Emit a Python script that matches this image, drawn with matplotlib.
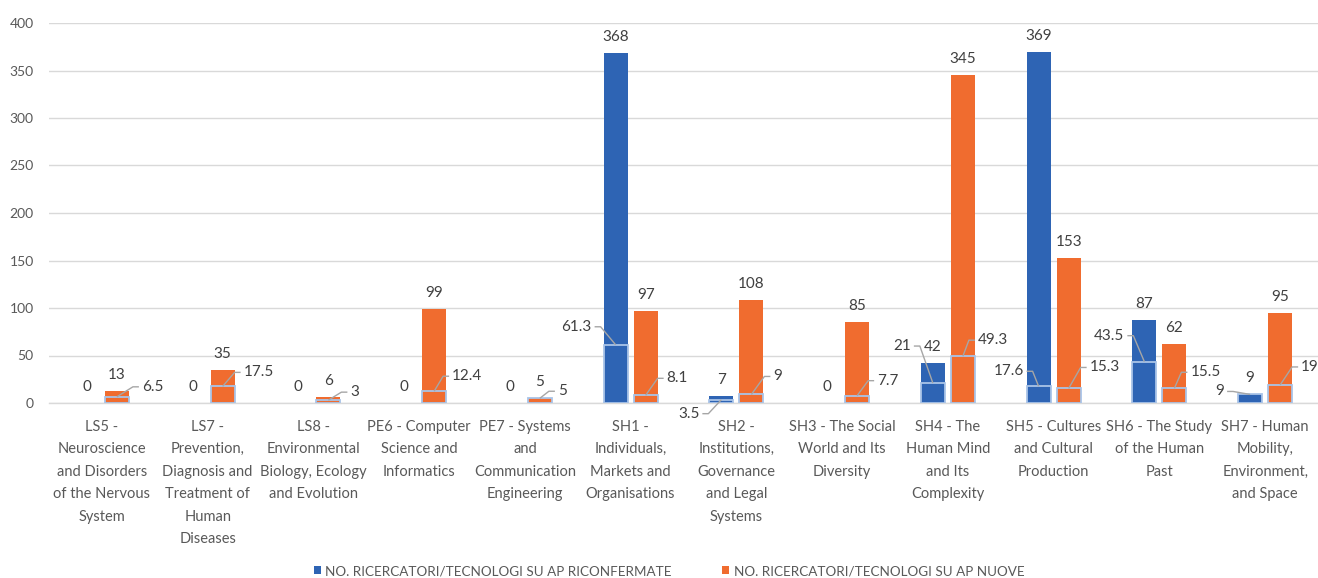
import matplotlib
matplotlib.use("Agg")
import matplotlib.pyplot as plt
import numpy as np

# ---------------- data ----------------
categories = [
    "LS5 -\nNeuroscience\nand Disorders\nof the Nervous\nSystem",
    "LS7 -\nPrevention,\nDiagnosis and\nTreatment of\nHuman\nDiseases",
    "LS8 -\nEnvironmental\nBiology, Ecology\nand Evolution",
    "PE6 - Computer\nScience and\nInformatics",
    "PE7 - Systems\nand\nCommunication\nEngineering",
    "SH1 -\nIndividuals,\nMarkets and\nOrganisations",
    "SH2 -\nInstitutions,\nGovernance\nand Legal\nSystems",
    "SH3 - The Social\nWorld and Its\nDiversity",
    "SH4 - The\nHuman Mind\nand Its\nComplexity",
    "SH5 - Cultures\nand Cultural\nProduction",
    "SH6 - The Study\nof the Human\nPast",
    "SH7 - Human\nMobility,\nEnvironment,\nand Space",
]
riconfermate = [0, 0, 0, 0, 0, 368, 7, 0, 42, 369, 87, 9]
nuove = [13, 35, 6, 99, 5, 97, 108, 85, 345, 153, 62, 95]
media_riconfermate = [0, 0, 0, 0, 0, 61.3, 3.5, 0, 21, 17.6, 43.5, 9]
media_nuove = [6.5, 17.5, 3, 12.4, 5, 8.1, 9, 7.7, 49.3, 15.3, 15.5, 19]
legend_labels = ["NO. RICERCATORI/TECNOLOGI SU AP RICONFERMATE",
                 "NO. RICERCATORI/TECNOLOGI SU AP NUOVE"]

# ---------------- layout / style ----------------
# label offsets (pixels): (dx, dy) with dy positive = downwards on screen
orange_lbl_off = [(25, -10), (21, -14), (22, -8), (18, -15), (18, -7), (21, -17),
                  (22, -18), (20, -15), (15, -16), (21, -21), (16, -16), (21, -18)]
blue_lbl_off = [None, None, None, None, None, (-24, -18), (-22, 14), None,
                (-22, -37), (-15, -15), (-20, -26), (-26, -3)]

BLUE = "#2e64b4"
ORANGE = "#f06c2f"
EDGE = "#a9c4e8"
GRID = "#d9d9d9"
TXT = "#404040"
TXT2 = "#595959"
LEADER = "#a6a6a6"

plt.rcParams["font.family"] = ["Lato", "DejaVu Sans"]

W, H = 1318, 578
fig = plt.figure(figsize=(W / 100, H / 100), dpi=100)
left_px, right_px, top_px, bot_px = 49, 1318, 23, 403
ax = fig.add_axes([left_px / W, 1 - bot_px / H, (right_px - left_px) / W, (bot_px - top_px) / H])

n = len(categories)
x = np.arange(n)
bw = 0.227
off = 0.142
ax.set_xlim(-0.5, n - 0.5)
ax.set_ylim(0, 400)

pxx = (right_px - left_px) / n      # pixels per x unit
pxy = (bot_px - top_px) / 400.0     # pixels per y unit

xb = x - off
xo = x + off

ax.bar(xb, riconfermate, bw, color=BLUE, zorder=2, label=legend_labels[0])
ax.bar(xo, nuove, bw, color=ORANGE, zorder=2, label=legend_labels[1])
lw_b = [1.3 if v > 0 else 0 for v in media_riconfermate]
lw_o = [1.3 if v > 0 else 0 for v in media_nuove]
ax.bar(xb, media_riconfermate, bw, color=BLUE, edgecolor=EDGE, linewidth=lw_b, zorder=3)
ax.bar(xo, media_nuove, bw, color=ORANGE, edgecolor=EDGE, linewidth=lw_o, zorder=3)

# main value labels
for xi, v in zip(xb, riconfermate):
    ax.text(xi, v + 16 / pxy, f"{v:g}", ha="center", va="center", fontsize=11, color=TXT, zorder=5)
for xi, v in zip(xo, nuove):
    ax.text(xi, v + 16 / pxy, f"{v:g}", ha="center", va="center", fontsize=11, color=TXT, zorder=5)

# inner series labels with leader lines
for xi, v, o in zip(xo, media_nuove, orange_lbl_off):
    lx = xi + o[0] / pxx
    ly = v - o[1] / pxy
    ax.plot([xi, lx - 9 / pxx, lx - 3 / pxx], [v, ly, ly], color=LEADER, lw=1, zorder=4,
            solid_capstyle="butt")
    ax.text(lx, ly, f"{v:g}", ha="left", va="center", fontsize=11, color=TXT, zorder=5)

for xi, v, o in zip(xb, media_riconfermate, blue_lbl_off):
    if o is None:
        continue
    lx = xi + o[0] / pxx
    ly = v - o[1] / pxy
    ax.plot([xi, lx + 9 / pxx, lx + 3 / pxx], [v, ly, ly], color=LEADER, lw=1, zorder=4,
            solid_capstyle="butt", clip_on=False)
    ax.text(lx, ly, f"{v:g}", ha="right", va="center", fontsize=11, color=TXT, zorder=5,
            clip_on=False)

# axes styling
ax.set_yticks(np.arange(0, 401, 50))
ax.grid(axis="y", color=GRID, lw=1, zorder=0)
ax.set_axisbelow(True)
for s in ["top", "right", "left"]:
    ax.spines[s].set_visible(False)
ax.spines["bottom"].set_color(GRID)
ax.spines["bottom"].set_linewidth(1)
ax.tick_params(axis="y", length=0, pad=11, labelsize=10, labelcolor=TXT2)
ax.tick_params(axis="x", length=0, pad=12, labelsize=10.5, labelcolor=TXT2)
ax.set_xticks(x)
ax.set_xticklabels(categories, linespacing=1.77, va="top")

leg = fig.legend(loc="center", bbox_to_anchor=(669 / W, 1 - 571 / H), ncol=2, frameon=False,
                 fontsize=9.75, handlelength=0.55, handleheight=0.55, handletextpad=0.3,
                 columnspacing=3.7, labelcolor=TXT2)

fig.savefig("out.png", dpi=100)
